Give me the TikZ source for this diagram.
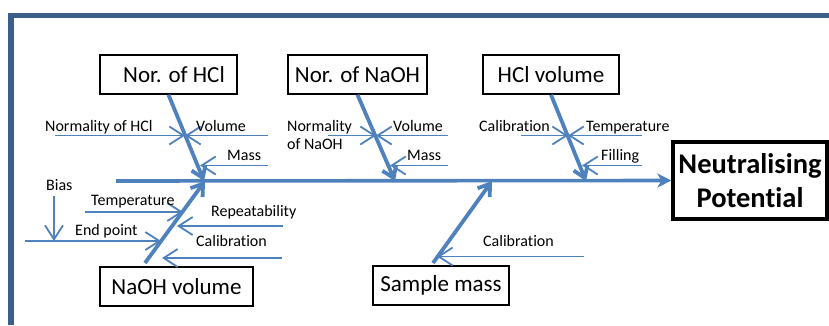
\documentclass[tikz,border=0pt]{standalone}
\usepackage{fontspec}
\setmainfont{Carlito}[Ligatures=NoCommon]
\usetikzlibrary{arrows.meta}
\definecolor{lineblue}{RGB}{79,129,189}
\definecolor{frameblue}{RGB}{58,95,139}
\begin{document}
\begin{tikzpicture}[x=1pt,y=-1pt,
  cause/.style={draw, line width=1.6pt, inner sep=0pt, minimum height=39pt, font=\fontsize{23}{27}\selectfont},
  lbl/.style={anchor=base west, inner sep=0pt, font=\fontsize{16}{18}\selectfont},
  sub/.style={lineblue, line width=1.8pt, -{Straight Barb[length=14pt,width=18pt]}},
  bone/.style={lineblue, line width=3.8pt, -{Straight Barb[length=11pt,width=15pt]}}]
  % page and frame
  \useasboundingbox (0,0) rectangle (829,325);
  \draw[frameblue, line width=5.5pt] (11,325) -- (11,15.5) -- (829,15.5);
  % effect and spine
  \node[draw, line width=3.2pt, minimum width=154pt, minimum height=77pt, inner sep=0pt, align=center,
    font=\fontsize{28.5}{34}\selectfont\bfseries] (np) at (750,180.5) {Neutralising\\Potential};
  \coordinate (tail) at (116,181);
  \draw[lineblue, line width=3.6pt, -{Stealth[length=14pt,width=14pt,inset=4pt]}] (tail) -- (np.west);
  % main causes
  \node[cause, minimum width=137pt] (hcl) at (168.5,74.5) {\hspace*{11pt}Nor. of HCl};
  \node[cause, minimum width=139pt] (naoh) at (357.5,74.5) {Nor. of NaOH};
  \node[cause, minimum width=136pt] (hclvol) at (551,74.5) {HCl volume};
  \node[cause, minimum width=153pt] (naohvol) at (176.5,286.5) {NaOH volume};
  \node[cause, minimum width=136pt] (sample) at (441,285.5) {Sample mass};
  % bones
  \coordinate (hcltip) at (204,181);
  \coordinate (naohtip) at (395,181);
  \coordinate (hclvoltip) at (586,181);
  \coordinate (naohvolfoot) at (145,263);
  \coordinate (naohvoltip) at (205,181);
  \coordinate (samplefoot) at (433,263);
  \coordinate (sampletip) at (492,181);
  \draw[bone] (hcl.south) -- (hcltip);
  \draw[bone] (naoh.south) -- (naohtip);
  \draw[bone] (hclvol.south) -- (hclvoltip);
  \draw[bone] (naohvolfoot) -- (naohvoltip);
  \draw[bone] (samplefoot) -- (sampletip);
  % Nor. of HCl
  \coordinate (hclx) at (185,135.5);
  \coordinate (hclm) at (200,165.5);
  \coordinate (hcla) at (55,135.5);
  \coordinate (hclb) at (268,135.5);
  \coordinate (hclc) at (268,165.5);
  \draw[sub] (hcla) -- (hclx);
  \draw[sub] (hclb) -- (hclx);
  \draw[sub] (hclc) -- (hclm);
  \node[lbl] (hcln) at (45,131) {Normality of HCl};
  \node[lbl] (hclv) at (196,131) {Volume};
  \node[lbl] (hclmass) at (227,160) {Mass};
  % Nor. of NaOH
  \coordinate (naohx) at (376,135.5);
  \coordinate (naohm) at (390,165.5);
  \coordinate (naoha) at (328,135.5);
  \coordinate (naohb) at (448,135.5);
  \coordinate (naohc) at (448,165.5);
  \draw[sub] (naoha) -- (naohx);
  \draw[sub] (naohb) -- (naohx);
  \draw[sub] (naohc) -- (naohm);
  \node[lbl, align=left] (naohn) at (287,149) {Normality\\of NaOH};
  \node[lbl] (naohv) at (393,131) {Volume};
  \node[lbl] (naohmass) at (407,160) {Mass};
  % HCl volume
  \coordinate (hclvolx) at (568,135.5);
  \coordinate (hclvolm) at (582,165.5);
  \coordinate (hclvola) at (521,135.5);
  \coordinate (hclvolb) at (642,135.5);
  \coordinate (hclvolc) at (642,165.5);
  \draw[sub] (hclvola) -- (hclvolx);
  \draw[sub] (hclvolb) -- (hclvolx);
  \draw[sub] (hclvolc) -- (hclvolm);
  \node[lbl] (hclvolcal) at (479,131) {Calibration};
  \node[lbl] (hclvoltemp) at (586,131) {Temperature};
  \node[lbl] (hclvolfill) at (601,160) {Filling};
  % NaOH volume
  \coordinate (naohvolt) at (183,212);
  \coordinate (naohvolr) at (177,226);
  \coordinate (naohvole) at (161,241);
  \coordinate (naohvolc) at (162,258);
  \coordinate (naohvolta) at (85,212);
  \coordinate (naohvolra) at (283,226);
  \coordinate (naohvolea) at (25,241);
  \coordinate (naohvolca) at (282,258);
  \coordinate (biastop) at (54,196);
  \coordinate (biasend) at (54,241);
  \draw[sub] (naohvolta) -- (naohvolt);
  \draw[sub] (naohvolra) -- (naohvolr);
  \draw[sub] (naohvolea) -- (naohvole);
  \draw[sub] (naohvolca) -- (naohvolc);
  \draw[sub] (biastop) -- (biasend);
  \node[lbl] (bias) at (46,190) {Bias};
  \node[lbl] (naohvoltemp) at (91,205) {Temperature};
  \node[lbl] (naohvolrep) at (211,216) {Repeatability};
  \node[lbl] (naohvolend) at (75,235) {End point};
  \node[lbl] (naohvolcal) at (196,246) {Calibration};
  % Sample mass
  \coordinate (samplec) at (437,256.5);
  \coordinate (sampleca) at (584,256.5);
  \draw[sub] (sampleca) -- (samplec);
  \node[lbl] (samplecal) at (483,246) {Calibration};
\end{tikzpicture}
\end{document}
